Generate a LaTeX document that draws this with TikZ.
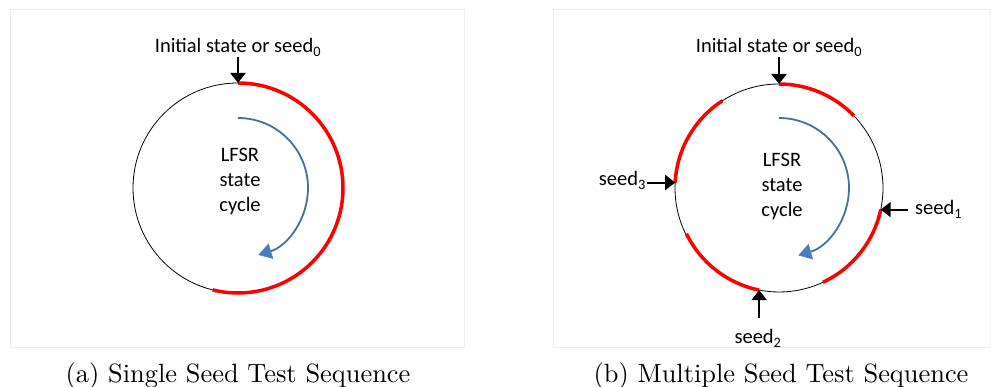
\documentclass[tikz,border=0pt]{standalone}
\usepackage{fontspec}
\setsansfont{Carlito}
\usetikzlibrary{arrows.meta,calc}
\definecolor{runred}{RGB}{255,0,0}
\definecolor{turnblue}{RGB}{65,113,156}
\definecolor{tipblue}{RGB}{74,126,187}
\definecolor{framegray}{RGB}{238,238,238}
\tikzset{
lbl/.style={font=\sffamily\fontsize{20.5}{25}\selectfont,inner sep=1pt},
ring/.style={draw,circle,line width=.8pt,minimum size=#1,inner sep=0pt,outer sep=0pt},
run/.style={draw=runred,line width=3.5pt},
feed/.style={draw,line width=2pt,-{Triangle[width=15pt,length=10pt]}},
turn/.style={draw=turnblue,line width=1.8pt,-{Triangle[width=16pt,length=13pt,color=tipblue,line width=.4pt]}},
frame/.style={draw=framegray,line width=1pt},
capt/.style={anchor=base,font=\fontsize{10}{12}\selectfont,scale=2.64,inner sep=0pt}}
\begin{document}
\begin{tikzpicture}[x=1pt,y=1pt]
\useasboundingbox(0,0)rectangle(991,387);
\draw[frame](10,377)rectangle(464,39);\draw[frame](553,377)rectangle(990,39);
\node[ring=210pt](ca)at(238,199){};\draw[run](ca.90)arc[start angle=90,end angle=-104,radius=105];
\draw[turn]([yshift=70pt]ca.center)arc[start angle=90,end angle=-73,radius=70];
\node[lbl,align=center](ta)at(240,205){LFSR\\state\\cycle};
\node[lbl,anchor=base](ia)at(238,334){Initial state or seed\textsubscript{0}};\draw[feed](ia.south)--(ca.north);
\node[capt](ka)at(238,4){(a) Single Seed Test Sequence};
\node[ring=208pt](cb)at(779,199){};
\foreach\a/\b in{90/44,-12/-65,-101.5/-154,177/123}\draw[run](cb.\a)arc[start angle=\a,end angle=\b,radius=104];
\draw[turn]([yshift=70pt]cb.center)arc[start angle=90,end angle=-74,radius=70];
\node[lbl,align=center](tb)at(782,200){LFSR\\state\\cycle};
\node[lbl,anchor=base](ib)at(779,334){Initial state or seed\textsubscript{0}};\draw[feed](ib.south)--(cb.north);
\node[lbl,anchor=base west,inner xsep=7pt](s1)at(908,172){seed\textsubscript{1}};\draw[feed](s1.west|-cb.-12)--(cb.-12);
\node[lbl,anchor=base](s2)at(758,43){seed\textsubscript{2}};\coordinate(t2)at([yshift=11pt]s2.north);\draw[feed](t2-|cb.-101.5)--(cb.-101.5);
\node[lbl,anchor=base east](s3)at(647,201){seed\textsubscript{3}};\draw[feed](s3.east|-cb.177)--(cb.177);
\node[capt](kb)at(781,4){(b) Multiple Seed Test Sequence};
\end{tikzpicture}
\end{document}
